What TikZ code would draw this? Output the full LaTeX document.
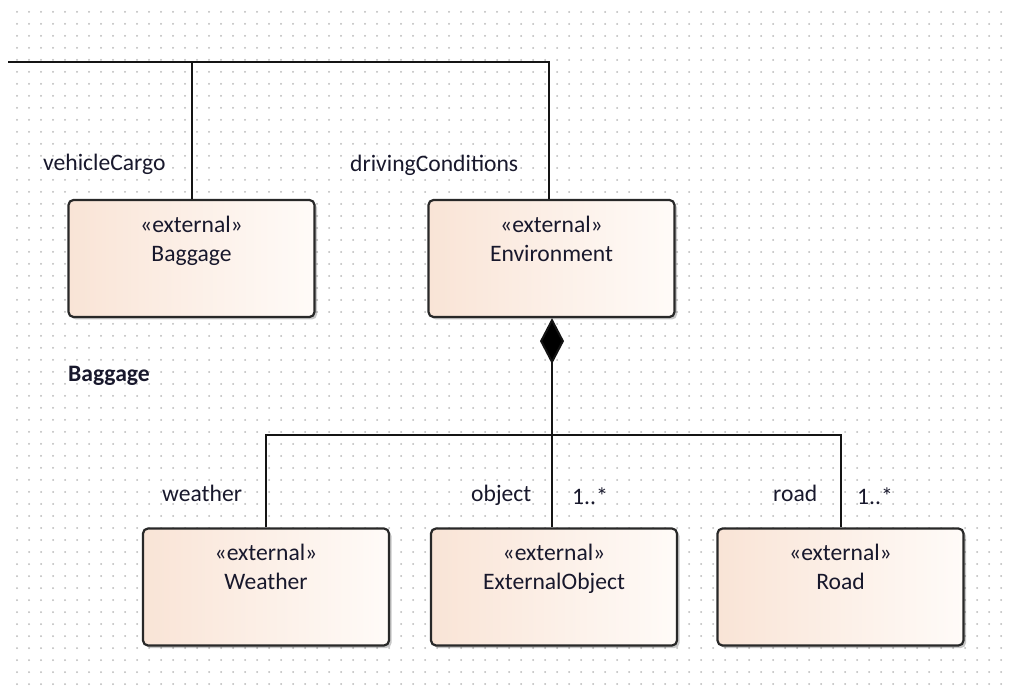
\documentclass[tikz,border=0pt]{standalone}
\usepackage{fontspec}
\setmainfont{Carlito}
\usetikzlibrary{shadows,arrows.meta}
\definecolor{dotc}{RGB}{185,185,185}
\definecolor{txtc}{RGB}{24,24,44}
\definecolor{boxl}{RGB}{249,228,214}
\definecolor{boxr}{RGB}{255,251,248}
\definecolor{linec}{RGB}{20,20,20}
\definecolor{borderc}{RGB}{40,40,40}
\tikzset{
  classbox/.style={draw=borderc, line width=2.2pt, rounded corners=5pt,
    left color=boxl, right color=boxr, minimum width=246pt, minimum height=117pt,
    inner sep=0pt, drop shadow={shadow xshift=2.5pt, shadow yshift=-2.5pt, fill=black, opacity=0.22}},
  boxtxt/.style={anchor=base, text=txtc, font=\fontsize{23.6}{26}\selectfont, inner sep=0pt},
  lbl/.style={anchor=base west, text=txtc, font=\fontsize{23.6}{26}\selectfont, inner sep=0pt},
  conn/.style={draw=linec, line width=2pt},
}
\begin{document}
\begin{tikzpicture}[x=1pt,y=-1pt]
\useasboundingbox (0,0) rectangle (1010,692);
\fill[white] (0,0) rectangle (1010,692);
\foreach \i in {0,...,83}{
  \foreach \j in {0,...,56}{
    \fill[dotc] (17+12*\i,12+12*\j) circle (1.0);
  }
}
% boxes
\node[classbox] (baggage) at (191.5,258.5) {};
\node[classbox] (env) at (551.5,258.5) {};
\node[classbox] (weather) at (266,587) {};
\node[classbox] (extobj) at (554,587) {};
\node[classbox] (road) at (840.5,587) {};
% box texts
\foreach \b/\n in {baggage/Baggage, env/Environment, weather/Weather, extobj/ExternalObject, road/Road}{
  \node[boxtxt] at ([yshift=-33.5pt]\b.north) {«external»};
  \node[boxtxt] at ([yshift=-62.5pt]\b.north) {\n};
}
% top connectors
\coordinate (tl) at (8,62);
\draw[conn] (tl) -| ([xshift=-2.5pt]env.north);
\draw[conn] (baggage.north) -- (baggage.north |- tl);
% composition
\coordinate (j) at (552,435);
\draw[conn, {Diamond[length=46pt,width=24pt,fill=black]}-] (j |- env.south) -- (j);
\draw[conn] (weather.north) |- (j) -| (road.north);
\draw[conn] (j) -- (j |- extobj.north);
% labels
\node[lbl] (l1) at (43,171) {vehicleCargo};
\node[lbl] (l2) at (350,172) {drivingConditions};
\node[lbl, font=\fontsize{23.6}{26}\selectfont\bfseries] (l3) at (68,382) {Baggage};
\node[lbl] (l4) at (162,502) {weather};
\node[lbl] (l5) at (471,501) {object};
\node[lbl] (l6) at (572,504) {1..*};
\node[lbl] (l7) at (773,502) {road};
\node[lbl] (l8) at (857,504) {1..*};
\end{tikzpicture}
\end{document}
